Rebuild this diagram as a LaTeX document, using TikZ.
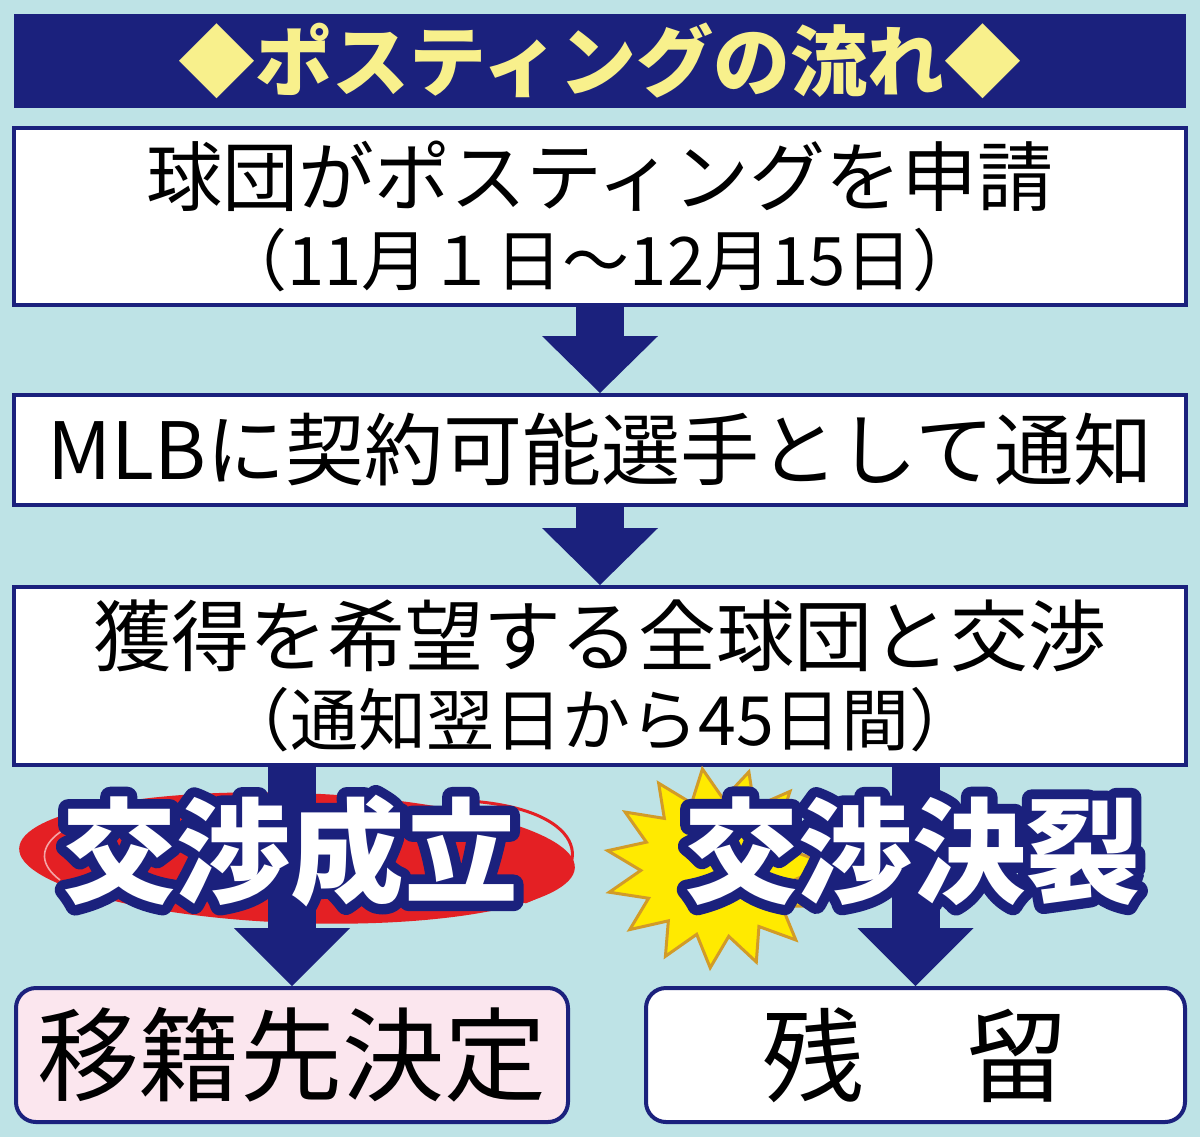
\documentclass[tikz,border=0pt]{standalone}
\usepackage{fontspec}
\setmainfont{Noto Sans CJK JP}
\usepackage{xcolor}
\usetikzlibrary{shapes.geometric}

\definecolor{skybg}{RGB}{190,227,230}
\definecolor{navyc}{RGB}{27,33,125}
\definecolor{titleyellow}{RGB}{248,240,140}
\definecolor{pinkbox}{RGB}{251,230,238}
\definecolor{brushred}{RGB}{228,32,36}
\definecolor{burstyellow}{RGB}{255,234,0}
\definecolor{burstgold}{RGB}{210,155,40}

% stroked text for the outlined words
\newcommand{\edgetext}[1]{\special{pdf:literal direct 2 Tr 10 w 1 j}#1\special{pdf:literal direct 0 Tr}}

\tikzset{
  flowbox/.style={draw=navyc, line width=2pt, fill=white, minimum width=586pt, align=center, inner sep=0pt},
  endbox/.style={draw=navyc, line width=2pt, rounded corners=10pt, minimum height=67pt, inner sep=0pt, font=\fontsize{51pt}{51pt}\selectfont},
  shaft/.style={navyc, line width=24pt, shorten >=28pt},
  head/.style={fill=navyc},
  bigword/.style={text=white, inner sep=0pt, font=\bfseries\fontsize{57pt}{57pt}\selectfont},
  wordedge/.style={bigword, text=navyc},
}

\begin{document}
\begin{tikzpicture}[x=0.5pt, y=-0.5pt]
    \useasboundingbox (0,0) rectangle (1200,1137);
    \fill[skybg] (0,0) rectangle (1200,1137);

    % title bar
    \node[fill=navyc, minimum width=586pt, minimum height=47pt, inner sep=0pt, text=titleyellow, font=\bfseries\fontsize{38.5pt}{38.5pt}\selectfont] (title) at (600,61) {◆ポスティングの流れ◆};

    % flow boxes
    \node[flowbox, minimum height=88.5pt, font=\fontsize{38pt}{40pt}\selectfont] (apply) at (600,216.5) {球団がポスティングを申請\\{\fontsize{33.5pt}{33.5pt}\selectfont （11月１日〜12月15日）}};
    \node[flowbox, minimum height=55pt, font=\fontsize{39.5pt}{40pt}\selectfont] (notify) at (600,450) {MLBに契約可能選手として通知};
    \node[flowbox, minimum height=89pt, font=\fontsize{39pt}{40pt}\selectfont] (talks) at (600,676) {獲得を希望する全球団と交渉\\{\fontsize{34pt}{34pt}\selectfont （通知翌日から45日間）}};

    \node[endbox, fill=pinkbox, minimum width=276pt] (deal) at (292,1055) {移籍先決定};
    \node[endbox, fill=white, minimum width=269.5pt] (stay) at (915.5,1055) {残　留};

    % red brush ring and burst
    \fill[brushred, rotate around={-2:(297,858)}] (297,858) ellipse [x radius=278, y radius=65];
    \draw[brushred, line width=1.5pt] (470,801) .. controls (592,810) and (598,874) .. (525,902);
    \draw[white, opacity=0.6, line width=0.8pt] (60,880) .. controls (20,850) and (60,815) .. (150,806);
    \node[star, star points=15, star point ratio=1.45, minimum size=100pt, xscale=1.12, rotate=8, fill=burstyellow, draw=burstgold, line width=1.5pt] (burst) at (718,868) {};

    % arrows
    \draw[shaft] (apply.south) -- (notify.north);
    \fill[head] (notify.north) -- ++(-58,-57) -- ++(116,0) -- cycle;
    \draw[shaft] (notify.south) -- (talks.north);
    \fill[head] (talks.north) -- ++(-58,-57) -- ++(116,0) -- cycle;
    \draw[shaft] (talks.south -| deal.north) -- (deal.north);
    \fill[head] (deal.north) -- ++(-58,-58) -- ++(116,0) -- cycle;
    \draw[shaft] (talks.south -| stay.north) -- (stay.north);
    \fill[head] (stay.north) -- ++(-58,-58) -- ++(116,0) -- cycle;

    % outlined words
    \node[wordedge] (okedge) at (290,851) {\edgetext{交渉成立}};
    \node[bigword] (ok) at (okedge) {交渉成立};
    \node[wordedge] (ngedge) at (912,851) {\edgetext{交渉決裂}};
    \node[bigword] (ng) at (ngedge) {交渉決裂};
\end{tikzpicture}
\end{document}
